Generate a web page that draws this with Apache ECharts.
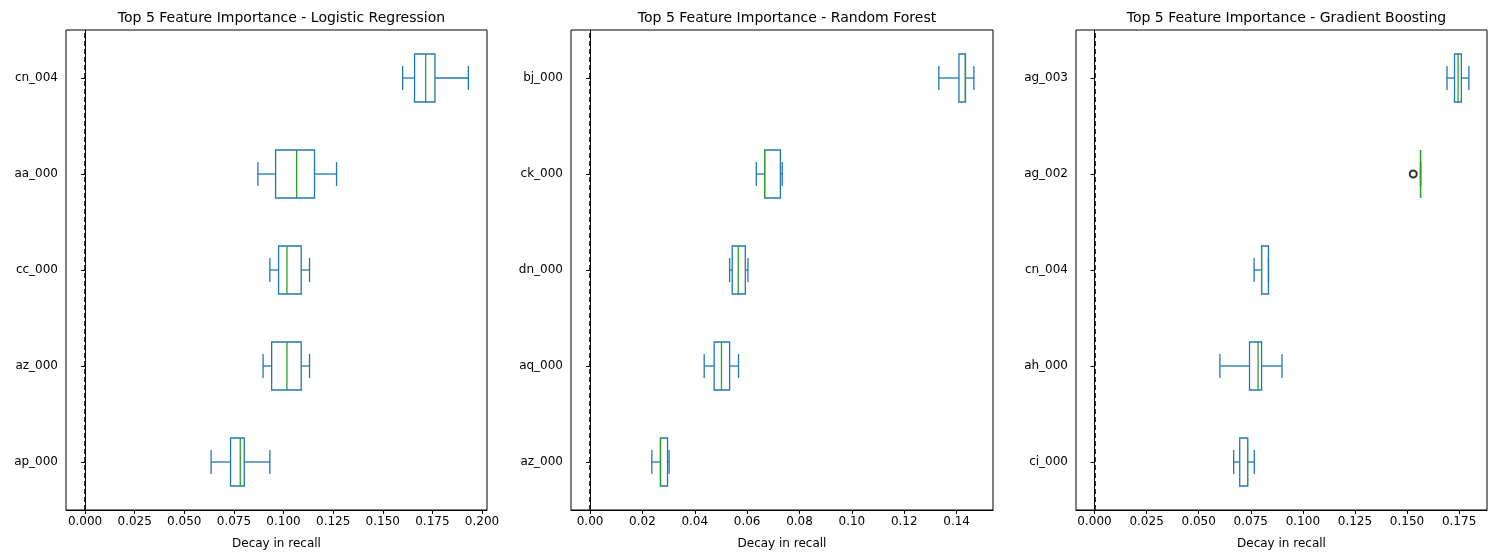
<!DOCTYPE html>
<html>
<head>
<meta charset="utf-8">
<script src="https://cdn.jsdelivr.net/npm/echarts@6/dist/echarts.min.js"></script>
<style>html,body{margin:0;padding:0;background:#fff}#c{width:1505px;height:558px}</style>
</head>
<body>
<div id="c"></div>
<script>
// [min, Q1, median, Q3, max], bottom to top
var titles = ['Top 5 Feature Importance - Logistic Regression',
              'Top 5 Feature Importance - Random Forest',
              'Top 5 Feature Importance - Gradient Boosting'];
var lrFeatures = ['ap_000', 'az_000', 'cc_000', 'aa_000', 'cn_004'];
var lrBoxes = [
    [0.0635, 0.0733, 0.0782, 0.0802, 0.0931],
    [0.0897, 0.0940, 0.1017, 0.1089, 0.1131],
    [0.0931, 0.0975, 0.1017, 0.1089, 0.1131],
    [0.0871, 0.0960, 0.1066, 0.1156, 0.1267],
    [0.1600, 0.1660, 0.1716, 0.1763, 0.1931]
];
var rfFeatures = ['az_000', 'aq_000', 'dn_000', 'ck_000', 'bj_000'];
var rfBoxes = [
    [0.0236, 0.0269, 0.0269, 0.0296, 0.0302],
    [0.0436, 0.0474, 0.0502, 0.0533, 0.0567],
    [0.0533, 0.0543, 0.0566, 0.0593, 0.0603],
    [0.0635, 0.0667, 0.0667, 0.0727, 0.0734],
    [0.1332, 0.1409, 0.1433, 0.1434, 0.1466]
];
var gbFeatures = ['ci_000', 'ah_000', 'cn_004', 'ag_002', 'ag_003'];
var gbBoxes = [
    [0.0668, 0.0697, 0.0735, 0.0735, 0.0767],
    [0.0602, 0.0744, 0.0785, 0.0802, 0.0900],
    [0.0766, 0.0802, 0.0802, 0.0835, 0.0835],
    [0.1565, 0.1565, 0.1565, 0.1565, 0.1565],
    [0.1692, 0.1728, 0.1745, 0.1761, 0.1797]
];
var gbOutliers = [[0.1530, 'ag_002']];
var lrTicks = [0, 0.025, 0.05, 0.075, 0.1, 0.125, 0.15, 0.175, 0.2];
var rfTicks = [0, 0.02, 0.04, 0.06, 0.08, 0.1, 0.12, 0.14];
var gbTicks = [0, 0.025, 0.05, 0.075, 0.1, 0.125, 0.15, 0.175];

var FONT = 'DejaVu Sans';
var BLUE = '#1f77b4', GREEN = '#2ca02c';

var panels = [
    {feat: lrFeatures, boxes: lrBoxes, ticks: lrTicks, dec: 3, min: -0.0096, max: 0.2025, left: 66, width: 421},
    {feat: rfFeatures, boxes: rfBoxes, ticks: rfTicks, dec: 2, min: -0.00727, max: 0.1539, left: 571, width: 422},
    {feat: gbFeatures, boxes: gbBoxes, ticks: gbTicks, dec: 3, min: -0.00889, max: 0.1884, left: 1076, width: 411}
];

function renderBox(params, api) {
    var cat = api.value(0);
    var v = [api.value(1), api.value(2), api.value(3), api.value(4), api.value(5)];
    var p = v.map(function (x) { return api.coord([x, cat]); });
    var y = p[0][1];
    var h = api.size([0, 1])[1] * 0.5;
    var cap = h / 2;
    var st = {stroke: BLUE, lineWidth: 1.3, fill: null};
    return {type: 'group', children: [
        {type: 'line', shape: {x1: p[0][0], y1: y, x2: p[1][0], y2: y}, style: st},
        {type: 'line', shape: {x1: p[3][0], y1: y, x2: p[4][0], y2: y}, style: st},
        {type: 'line', shape: {x1: p[0][0], y1: y - cap / 2, x2: p[0][0], y2: y + cap / 2}, style: st},
        {type: 'line', shape: {x1: p[4][0], y1: y - cap / 2, x2: p[4][0], y2: y + cap / 2}, style: st},
        {type: 'rect', shape: {x: p[1][0], y: y - h / 2, width: p[3][0] - p[1][0], height: h}, style: st},
        {type: 'line', shape: {x1: p[2][0], y1: y - h / 2, x2: p[2][0], y2: y + h / 2},
            style: {stroke: GREEN, lineWidth: 1.3}}
    ]};
}

var option = {title: [], grid: [], xAxis: [], yAxis: [], series: []};
panels.forEach(function (pn, i) {
    option.title.push({text: titles[i], left: pn.left + pn.width / 2, top: 6, textAlign: 'center',
        textStyle: {fontFamily: FONT, fontSize: 14, fontWeight: 'normal', color: '#000'}});
    option.grid.push({left: pn.left, width: pn.width, top: 30, height: 480, show: true,
        borderColor: '#000', borderWidth: 1, backgroundColor: '#fff'});
    option.xAxis.push({type: 'value', gridIndex: i, min: pn.min, max: pn.max,
        name: 'Decay in recall', nameLocation: 'middle', nameGap: 28,
        nameTextStyle: {fontFamily: FONT, fontSize: 12, color: '#000'},
        splitLine: {show: false},
        axisLine: {show: true, onZero: false, lineStyle: {color: '#000'}},
        axisTick: {show: true, length: 4, lineStyle: {color: '#000'}, customValues: pn.ticks},
        axisLabel: {fontFamily: FONT, fontSize: 12, color: '#000', margin: 6, customValues: pn.ticks,
            formatter: (function (d) { return function (v) { return v.toFixed(d); }; })(pn.dec)}});
    option.yAxis.push({type: 'category', gridIndex: i, data: pn.feat,
        axisLine: {show: true, lineStyle: {color: '#000'}},
        axisTick: {show: true, alignWithLabel: true, length: 4, lineStyle: {color: '#000'}},
        axisLabel: {fontFamily: FONT, fontSize: 12, color: '#000', margin: 8}});
    option.series.push({type: 'custom', xAxisIndex: i, yAxisIndex: i,
        data: pn.boxes.map(function (b, k) { return [k].concat(b); }),
        encode: {x: [1, 2, 3, 4, 5], y: 0},
        renderItem: renderBox,
        markLine: {silent: true, symbol: 'none', label: {show: false},
            lineStyle: {color: '#000', type: [5, 3], width: 1.6},
            data: [{xAxis: 0}]}});
});
option.series.push({type: 'scatter', xAxisIndex: 2, yAxisIndex: 2, data: gbOutliers,
    symbol: 'emptyCircle', symbolSize: 7, itemStyle: {color: '#000', borderColor: '#000', borderWidth: 1}});

echarts.init(document.getElementById('c')).setOption(option);
</script>
</body>
</html>
